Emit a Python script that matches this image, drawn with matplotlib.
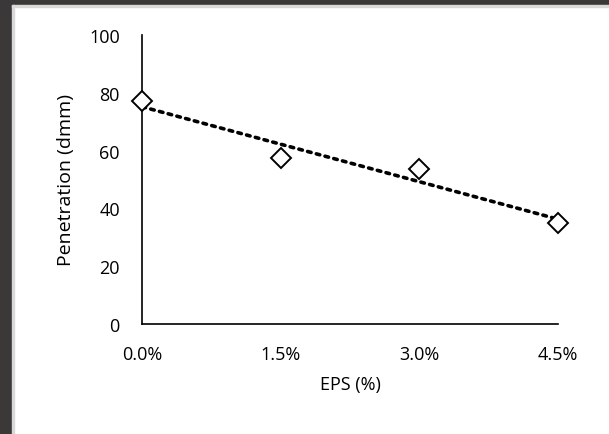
import matplotlib
matplotlib.use('Agg')
import matplotlib.pyplot as plt
import numpy as npy
from matplotlib.patches import Rectangle

eps = [0.0, 1.5, 3.0, 4.5]
penetration = [77.0, 57.3, 53.6, 35.0]
xticks = [0.0, 1.5, 3.0, 4.5]
xtick_labels = ['0.0%', '1.5%', '3.0%', '4.5%']
yticks = [0, 20, 40, 60, 80, 100]

plt.rcParams['font.family'] = ['Open Sans', 'DejaVu Sans']

def chart():
    fig = plt.figure(figsize=(6.09, 4.35), dpi=100)
    # dark frame strips from the screenshot
    fig.add_artist(Rectangle((0, 0), 12/609., 1, transform=fig.transFigure, color='#3b3838', zorder=0))
    fig.add_artist(Rectangle((0, 1 - 6/435.), 1, 6/435., transform=fig.transFigure, color='#3b3838', zorder=0))
    fig.add_artist(Rectangle((12/609., 0), 1.5/609., 1 - 6/435., transform=fig.transFigure, color='#d9d9d9', zorder=0))
    fig.add_artist(Rectangle((12/609., 1 - 7.5/435.), 1, 1.5/435., transform=fig.transFigure, color='#d9d9d9', zorder=0))

    ax = fig.add_axes([142/609., 110/435., 416/609., 289/435.])

    # linear trend line
    k, b = npy.polyfit(eps, penetration, 1)
    xs = npy.array([eps[0], eps[-1]])
    ax.plot(xs, k*xs + b, color='black', linestyle=(0, (1, 1.5)), linewidth=2.6,
            dash_capstyle='round', zorder=2)
    ax.plot(eps, penetration, linestyle='none', marker='D', markersize=10,
            markerfacecolor='white', markeredgecolor='black', markeredgewidth=1.4,
            zorder=3, clip_on=False)

    ax.set_xlim(0, 4.5)
    ax.set_ylim(0, 100)
    ax.set_xticks(xticks)
    ax.set_xticklabels(xtick_labels)
    ax.set_yticks(yticks)
    ax.tick_params(length=0, labelsize=13, colors='black')
    ax.tick_params(axis='y', pad=16)
    ax.tick_params(axis='x', pad=15)
    for s in ['top', 'right']:
        ax.spines[s].set_visible(False)
    for s in ['left', 'bottom']:
        ax.spines[s].set_linewidth(1.2)
    ax.set_xlabel('EPS (%)', fontsize=13, labelpad=9)
    ax.set_ylabel('Penetration (dmm)', fontsize=14, labelpad=10)

    plt.savefig('out.png', dpi=100)

def main():
    chart()

if __name__ == '__main__':
    main()
